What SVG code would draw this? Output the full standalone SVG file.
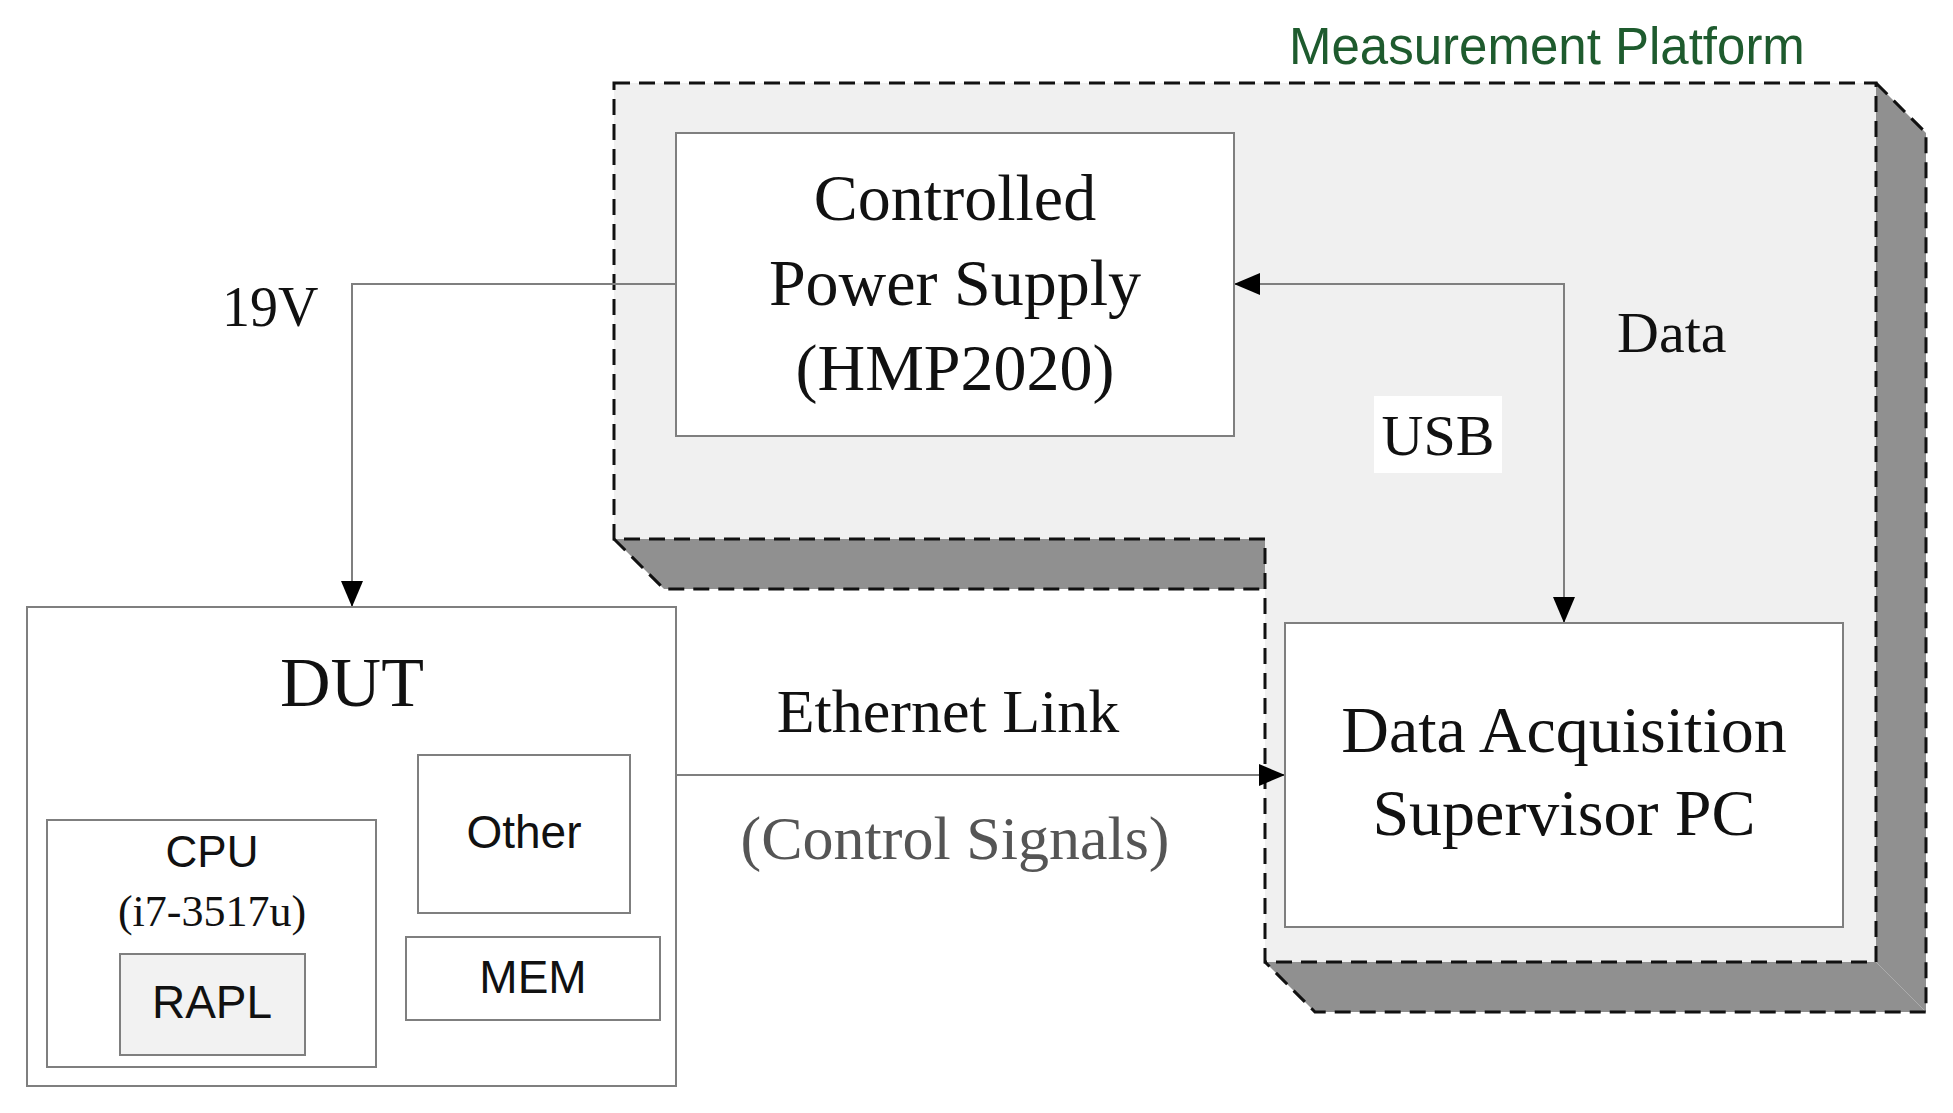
<svg xmlns="http://www.w3.org/2000/svg" width="1953" height="1113" viewBox="0 0 1953 1113">
<style>
.box{fill:#fff;stroke:#7f7f7f;stroke-width:2}
.serif{font-family:"Liberation Serif",serif;fill:#111;text-anchor:middle}
.sans{font-family:"Liberation Sans",sans-serif;fill:#111;text-anchor:middle}
.line{fill:none;stroke:#7f7f7f;stroke-width:2}
.dash{fill:none;stroke:#111;stroke-width:3;stroke-dasharray:16 9}
</style>
<defs>
<marker id="ah" markerWidth="26" markerHeight="26" refX="26" refY="13" orient="auto-start-reverse" markerUnits="userSpaceOnUse" viewBox="0 0 26 26"><path d="M0,2 L26,13 L0,24 z" fill="#000"/></marker>
</defs>
<rect width="1953" height="1113" fill="#fff"/>
<g id="platform">
<path d="M1876,83 L1926,133 L1926,1012 L1876,962 Z" fill="#909090"/>
<path d="M1265,962 L1876,962 L1926,1012 L1315,1012 Z" fill="#909090"/>
<path d="M614,539 L1265,539 L1265,589 L664,589 Z" fill="#909090"/>
<path d="M614,83 L1876,83 L1876,962 L1265,962 L1265,539 L614,539 Z" fill="#f0f0f0"/>
<path class="dash" d="M614,83 L1876,83 L1876,962 L1265,962 L1265,539 L614,539 Z"/>
<path class="dash" d="M1876,83 L1926,133 L1926,1012 L1315,1012 L1265,962 M614,539 L664,589 L1265,589"/>
<text x="1289" y="64" font-family="Liberation Sans,sans-serif" font-size="51" fill="#1e5b2e">Measurement Platform</text>
</g>
<g id="connectors">
<path class="line" d="M676,284 L352,284 L352,607" marker-end="url(#ah)"/>
<path class="line" d="M1234,284 L1564,284 L1564,623" marker-start="url(#ah)" marker-end="url(#ah)"/>
<path class="line" d="M676,775 L1285,775" marker-end="url(#ah)"/>
<text x="222" y="326" font-family="Liberation Serif,serif" font-size="56" fill="#111">19V</text>
<text x="1617" y="352" font-family="Liberation Serif,serif" font-size="58" fill="#111">Data</text>
<rect x="1374" y="396" width="128" height="77" fill="#fff"/>
<text class="serif" x="1438" y="455" font-size="58">USB</text>
<text class="serif" x="948" y="732" font-size="62">Ethernet Link</text>
<text class="serif" x="955" y="859" font-size="62" style="fill:#555">(Control Signals)</text>
</g>
<g id="power-supply">
<rect class="box" x="676" y="133" width="558" height="303"/>
<text class="serif" x="955" y="220" font-size="66">Controlled</text>
<text class="serif" x="955" y="305" font-size="66">Power Supply</text>
<text class="serif" x="955" y="390" font-size="66">(HMP2020)</text>
</g>
<g id="daq">
<rect class="box" x="1285" y="623" width="558" height="304"/>
<text class="serif" x="1564" y="752" font-size="66">Data Acquisition</text>
<text class="serif" x="1564" y="835" font-size="66">Supervisor PC</text>
</g>
<g id="dut">
<rect class="box" x="27" y="607" width="649" height="479"/>
<text class="serif" x="352" y="706" font-size="70">DUT</text>
</g>
<g id="cpu">
<rect class="box" x="47" y="820" width="329" height="247"/>
<text class="sans" x="212" y="867" font-size="44">CPU</text>
<text class="serif" x="212" y="926" font-size="44">(i7-3517u)</text>
</g>
<g id="rapl">
<rect class="box" x="120" y="954" width="185" height="101" style="fill:#f2f2f2"/>
<text class="sans" x="212" y="1018" font-size="46">RAPL</text>
</g>
<g id="other">
<rect class="box" x="418" y="755" width="212" height="158"/>
<text class="sans" x="524" y="848" font-size="46">Other</text>
</g>
<g id="mem">
<rect class="box" x="406" y="937" width="254" height="83"/>
<text class="sans" x="533" y="993" font-size="46">MEM</text>
</g>
</svg>
